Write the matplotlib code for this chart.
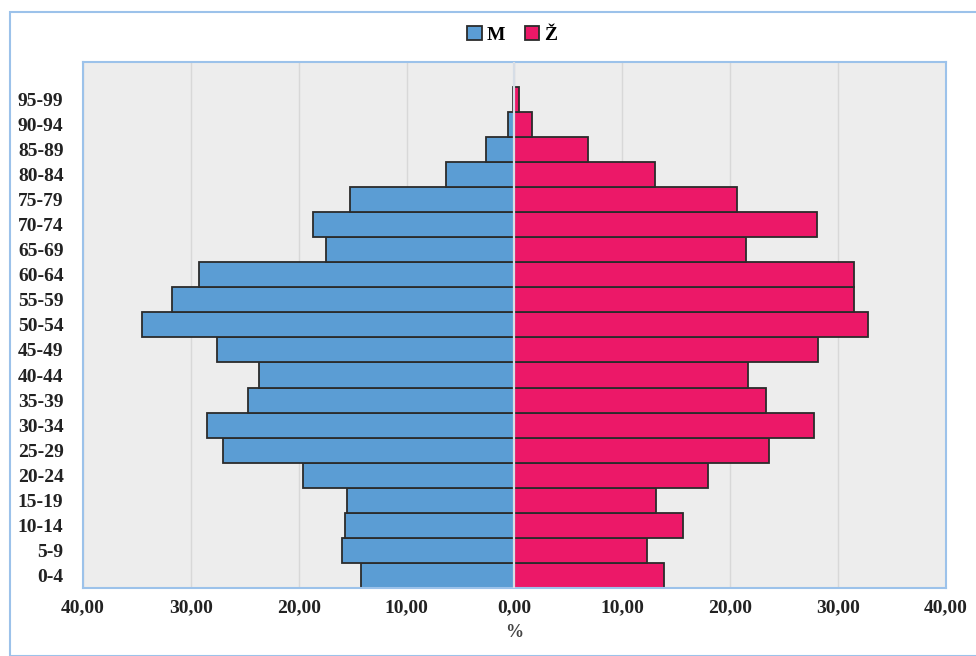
import numpy as np
import matplotlib
matplotlib.use("Agg")
import matplotlib.pyplot as plt
from matplotlib.patches import Rectangle

# age groups, bottom to top
ages = ["0-4", "5-9", "10-14", "15-19", "20-24", "25-29", "30-34", "35-39",
        "40-44", "45-49", "50-54", "55-59", "60-64", "65-69", "70-74",
        "75-79", "80-84", "85-89", "90-94", "95-99"]
male = [14.2, 16.0, 15.7, 15.5, 19.6, 27.0, 28.5, 24.7, 23.7, 27.6,
        34.5, 31.7, 29.2, 17.5, 18.7, 15.2, 6.3, 2.6, 0.55, 0.15]
female = [13.9, 12.3, 15.6, 13.1, 18.0, 23.6, 27.8, 23.3, 21.7, 28.2,
          32.8, 31.5, 31.5, 21.5, 28.1, 20.6, 13.0, 6.8, 1.6, 0.45]
xticks = [-40, -30, -20, -10, 0, 10, 20, 30, 40]

blue = "#5b9dd4"
pink = "#ec1868"
frame = "#9cc2ea"

plt.rcParams["font.family"] = ["Liberation Serif", "DejaVu Serif"]
plt.rcParams["font.weight"] = "bold"

fig = plt.figure(figsize=(9.76, 6.56), dpi=100)
fig.patches.append(Rectangle((0.01, 0.0), 1.2, 0.982, transform=fig.transFigure,
                             fill=False, edgecolor=frame, lw=1.5))
ax = fig.add_axes([0.085, 0.1037, 0.884, 0.802])
ax.set_facecolor("#ededed")

y = np.arange(len(ages))
ax.barh(y, -np.array(male), height=1.0, color=blue, edgecolor="#2b2b2b",
        lw=1.3, label="M", zorder=2)
ax.barh(y, female, height=1.0, color=pink, edgecolor="#2b2b2b",
        lw=1.3, label="Ž", zorder=2)
ax.axvline(0, color="#d6dde6", lw=1.6, zorder=3)

ax.set_xlim(-40, 40)
ax.set_ylim(-0.5, len(ages) + 0.5)
ax.set_xticks(xticks)
ax.set_xticklabels([f"{abs(v):.2f}".replace(".", ",") for v in xticks],
                   fontsize=14, fontweight="bold", color="#222222")
ax.set_yticks(y)
ax.set_yticklabels(ages, fontsize=14, fontweight="bold", color="#222222")
ax.tick_params(length=0)
ax.tick_params(axis="y", pad=14)
ax.tick_params(axis="x", pad=8)
ax.set_xlabel("%", fontsize=13, fontweight="bold", color="#444444", labelpad=6)
ax.grid(axis="x", color="#d8d8d8", lw=1, zorder=0)
ax.set_axisbelow(True)
for s in ax.spines.values():
    s.set_color(frame)
    s.set_linewidth(1.5)

leg = fig.legend(loc="center", bbox_to_anchor=(0.525, 0.947), ncol=2,
                 frameon=False, handlelength=0.75, handleheight=0.75,
                 handletextpad=0.25, columnspacing=1.0,
                 prop={"size": 14, "weight": "bold"})

fig.savefig("out.png", dpi=100)
